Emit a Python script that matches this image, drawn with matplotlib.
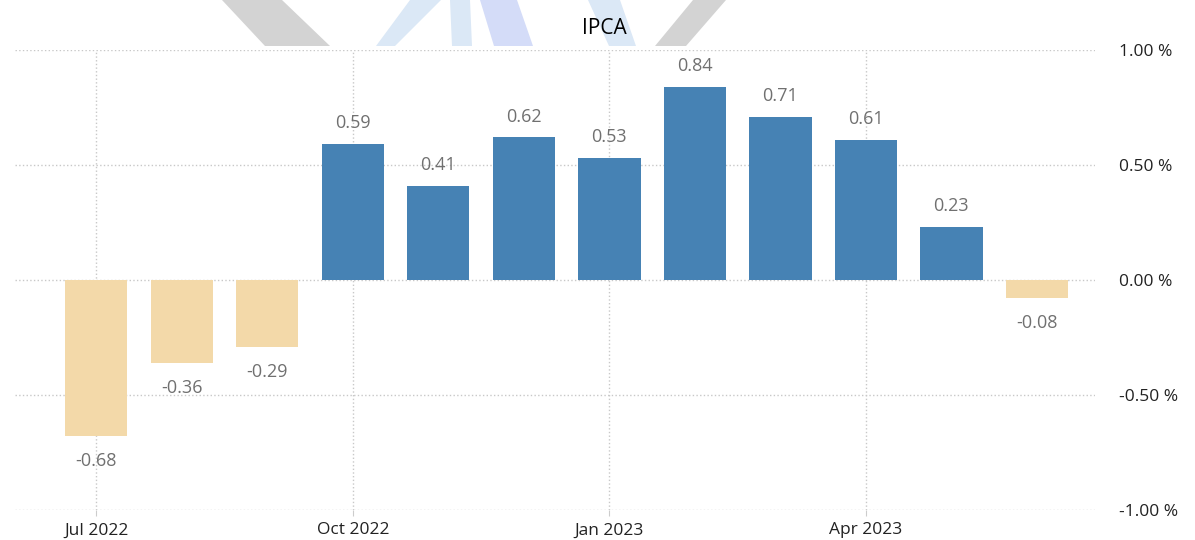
import matplotlib.pyplot as plt
from matplotlib.patches import Polygon

meses = ["Jul 2022", "Aug 2022", "Sep 2022", "Oct 2022", "Nov 2022", "Dec 2022",
         "Jan 2023", "Feb 2023", "Mar 2023", "Apr 2023", "May 2023", "Jun 2023"]
ipca = [-0.68, -0.36, -0.29, 0.59, 0.41, 0.62, 0.53, 0.84, 0.71, 0.61, 0.23, -0.08]
rotulos_x = ["Jul 2022", "Oct 2022", "Jan 2023", "Apr 2023"]
ticks_y = [-1.0, -0.5, 0.0, 0.5, 1.0]

azul = '#4682b4'
bege = '#f3d9a9'

plt.rcParams['font.family'] = ['Open Sans', 'DejaVu Sans']

fig = plt.figure(figsize=(11.95, 5.40), dpi=100)

# marca d'agua (fundo, acima do grafico)
marca = [
    ([(222, 0), (282, 0), (330, 46), (265, 46)], '#d3d3d3'),
    ([(410, 0), (441, 0), (395, 46), (376, 46)], '#dbe8f6'),
    ([(450, 0), (470, 0), (472, 46), (452, 46)], '#dbe8f6'),
    ([(480, 0), (517, 0), (533, 46), (494, 46)], '#d4dcf8'),
    ([(588, 0), (620, 0), (636, 46), (609, 46)], '#dbe8f6'),
    ([(693, 0), (726, 0), (686, 46), (655, 46)], '#d3d3d3'),
]
for pts, cor in marca:
    fig.patches.append(Polygon([(x / 1195, 1 - y / 540) for x, y in pts],
                               closed=True, facecolor=cor, edgecolor='none',
                               transform=fig.transFigure, zorder=0))

ax = fig.add_axes([15 / 1195, 1 - 510 / 540, 1080 / 1195, 460 / 540])
ax.patch.set_alpha(0)

x = list(range(len(meses)))
cores = [azul if v >= 0 else bege for v in ipca]
ax.bar(x, ipca, width=0.73, color=cores, zorder=3)

for xi, v in zip(x, ipca):
    if v >= 0:
        ax.annotate(f"{v:.2f}", (xi, v), xytext=(0, 15), textcoords='offset points',
                    ha='center', va='center', fontsize=13, color='#707070')
    else:
        ax.annotate(f"{v:.2f}", (xi, v), xytext=(0, -18), textcoords='offset points',
                    ha='center', va='center', fontsize=13, color='#707070')

ax.set_xlim(-0.95, 11.68)
ax.set_ylim(-1.0, 1.0)

ax.set_xticks([meses.index(m) for m in rotulos_x])
ax.set_xticklabels(rotulos_x)
ax.set_yticks(ticks_y)
ax.set_yticklabels([f"{t:.2f} %" for t in ticks_y])
ax.yaxis.tick_right()

ax.tick_params(axis='x', length=4, color='#cccccc', labelsize=12.5, labelcolor='#222222', pad=5)
ax.tick_params(axis='y', length=0, labelsize=12.5, labelcolor='#222222', pad=17)

ax.grid(True, linestyle=':', color='#c8c8c8', linewidth=1, zorder=0)
for s in ax.spines.values():
    s.set_visible(False)

fig.text(604 / 1195, 1 - 28 / 540, "IPCA", ha='center', va='center', fontsize=15, color='black')

plt.savefig("out.png", dpi=100)
